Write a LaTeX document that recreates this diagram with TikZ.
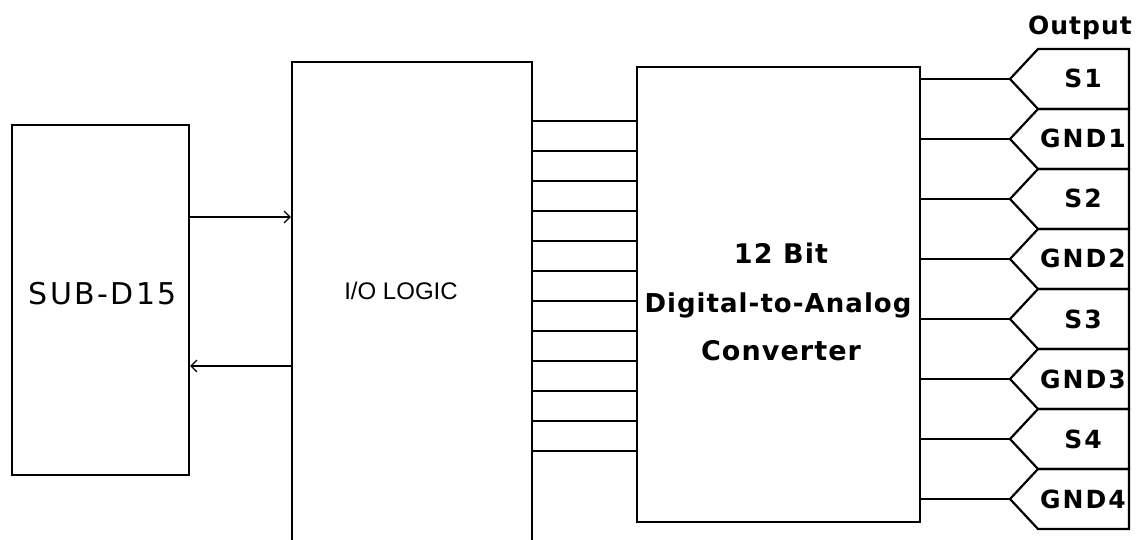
\documentclass[tikz,border=0pt]{standalone}
\usepackage{fontspec}
\usetikzlibrary{arrows.meta}
\newfontfamily\pixreg{DejaVu Sans}[LetterSpace=8]
\newfontfamily\pixbold{DejaVu Sans Bold}[LetterSpace=4]
\newfontfamily\pixboldw{DejaVu Sans Bold}[LetterSpace=8]
\newfontfamily\helv{Liberation Sans}
\tikzset{
  blk/.style={draw, line width=2.2pt, rectangle, inner sep=0pt},
  wire/.style={line width=2.2pt},
  arr/.style={wire, -{Straight Barb[length=6pt,width=12pt,line width=1.2pt]}},
  plug/.style={draw, line width=2.2pt, line join=miter},
  lbl/.style={inner sep=0pt, anchor=base},
  outlbl/.style={lbl, font=\pixboldw\fontsize{25}{28}\selectfont},
}
\begin{document}
\begin{tikzpicture}[x=1pt,y=-1pt]
\useasboundingbox (0,0) rectangle (1138,540);
\clip (0,0) rectangle (1138,540);
\fill[white] (0,0) rectangle (1138,540);
% boxes
\node[blk, minimum width=177pt, minimum height=350pt] (sub) at (100.5,300) {};
\node[blk, minimum width=240pt, minimum height=520pt] (io) at (412,322) {};
\node[blk, minimum width=283pt, minimum height=455pt] (dac) at (778.5,294.5) {};
% texts
\node[inner sep=0pt, font=\pixreg\fontsize{30}{34}\selectfont] (subt) at (103,294) {SUB-D15};
\node[inner sep=0pt, font=\helv\fontsize{24}{28}\selectfont] (iot) at (401,291) {I/O LOGIC};
\node[lbl, font=\pixbold\fontsize{27}{30}\selectfont] (d1) at (781,263) {12 Bit};
\node[lbl, font=\pixbold\fontsize{26}{30}\selectfont] (d2) at (778,312) {Digital-to-Analog};
\node[lbl, font=\pixbold\fontsize{27}{30}\selectfont] (d3) at (781,360) {Converter};
\node[lbl, font=\pixbold\fontsize{25}{28}\selectfont] (outt) at (1080,35) {Output};
% arrows between SUB-D15 and I/O LOGIC
\draw[arr] (sub.east |- 0,217) -- (io.west |- 0,217);
\draw[arr] (io.west |- 0,366) -- (sub.east |- 0,366);
% 12-line bus
\foreach \i in {0,...,11}{
  \pgfmathsetmacro{\yy}{121+30*\i}
  \draw[wire] (io.east |- 0,\yy) -- (dac.west |- 0,\yy);
}
% output connectors
\foreach \i/\t in {0/S1,1/GND1,2/S2,3/GND2,4/S3,5/GND3,6/S4,7/GND4}{
  \pgfmathsetmacro{\top}{49+60*\i}
  \pgfmathsetmacro{\mid}{79+60*\i}
  \pgfmathsetmacro{\bot}{109+60*\i}
  \coordinate (tip\i) at (1010,\mid);
  \draw[plug] (1038,\top) -- (1129,\top) -- (1129,\bot) -- (1038,\bot) -- (tip\i) -- cycle;
  \node[outlbl] (o\i) at (1083,\mid+9) {\t};
  \draw[wire] (dac.east |- tip\i) -- (tip\i);
}
\end{tikzpicture}
\end{document}
